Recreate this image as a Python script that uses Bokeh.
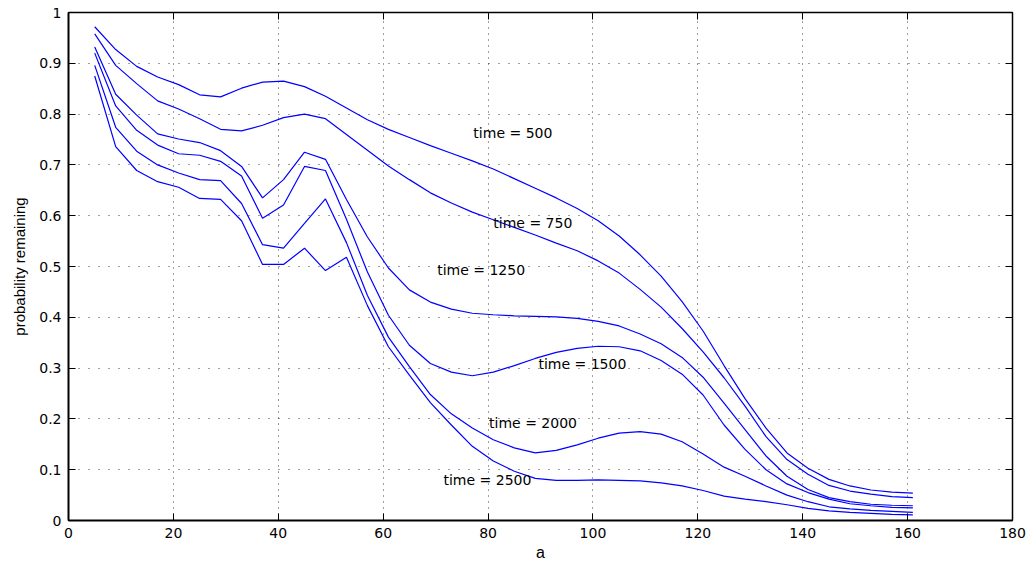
from bokeh.plotting import figure
from bokeh.models import Range1d, LinearAxis, FixedTicker, CustomLabelingPolicy
from bokeh.core.properties import value
from bokeh.embed import file_html
from bokeh.resources import INLINE

# ---------------- data ----------------
a_vals = [5, 9, 13, 17, 21, 25, 29, 33, 37, 41, 45, 49, 53, 57, 61, 65, 69, 73, 77, 81,
          85, 89, 93, 97, 101, 105, 109, 113, 117, 121, 125, 129, 133, 137, 141, 145, 149, 153, 157, 161]

t500 = [0.972, 0.927, 0.894, 0.873, 0.858, 0.838, 0.834, 0.851, 0.863, 0.865, 0.854, 0.835, 0.812,
        0.789, 0.770, 0.754, 0.738, 0.723, 0.708, 0.692, 0.673, 0.654, 0.635, 0.614, 0.590, 0.560,
        0.523, 0.481, 0.431, 0.373, 0.305, 0.240, 0.182, 0.133, 0.103, 0.081, 0.068, 0.060, 0.056, 0.054]
t750 = [0.958, 0.896, 0.860, 0.826, 0.810, 0.791, 0.770, 0.767, 0.778, 0.793, 0.800, 0.791, 0.760,
        0.729, 0.698, 0.671, 0.645, 0.625, 0.607, 0.592, 0.577, 0.562, 0.546, 0.531, 0.511, 0.487,
        0.455, 0.420, 0.378, 0.332, 0.281, 0.225, 0.165, 0.120, 0.091, 0.069, 0.058, 0.052, 0.047, 0.045]
t1250 = [0.932, 0.839, 0.798, 0.761, 0.751, 0.744, 0.728, 0.697, 0.635, 0.671, 0.725, 0.711, 0.632,
         0.558, 0.497, 0.454, 0.430, 0.416, 0.408, 0.405, 0.403, 0.402, 0.401, 0.398, 0.392, 0.383,
         0.367, 0.348, 0.321, 0.282, 0.231, 0.179, 0.127, 0.087, 0.061, 0.045, 0.037, 0.032, 0.030, 0.029]
t1500 = [0.920, 0.816, 0.768, 0.739, 0.722, 0.719, 0.707, 0.678, 0.595, 0.621, 0.697, 0.689, 0.593,
         0.489, 0.404, 0.345, 0.309, 0.292, 0.285, 0.292, 0.305, 0.319, 0.331, 0.339, 0.343, 0.342,
         0.334, 0.315, 0.288, 0.247, 0.188, 0.140, 0.100, 0.072, 0.055, 0.042, 0.033, 0.029, 0.026, 0.025]
t2000 = [0.896, 0.774, 0.727, 0.700, 0.684, 0.671, 0.669, 0.624, 0.543, 0.536, 0.585, 0.633, 0.547,
         0.443, 0.361, 0.303, 0.248, 0.210, 0.182, 0.159, 0.143, 0.133, 0.138, 0.149, 0.162, 0.172,
         0.175, 0.170, 0.155, 0.131, 0.105, 0.087, 0.068, 0.050, 0.037, 0.027, 0.023, 0.020, 0.018, 0.016]
t2500 = [0.875, 0.736, 0.689, 0.667, 0.656, 0.634, 0.632, 0.590, 0.504, 0.504, 0.536, 0.492, 0.518,
         0.423, 0.342, 0.286, 0.232, 0.188, 0.146, 0.117, 0.097, 0.083, 0.079, 0.079, 0.080, 0.079,
         0.078, 0.074, 0.068, 0.059, 0.048, 0.042, 0.037, 0.031, 0.024, 0.019, 0.016, 0.014, 0.012, 0.011]

series = [t500, t750, t1250, t1500, t2000, t2500]

label_text = ["time = 500", "time = 750", "time = 1250", "time = 1500", "time = 2000", "time = 2500"]
label_x = [77.2, 81.0, 70.3, 89.6, 80.2, 71.5]
label_y = [0.763, 0.585, 0.493, 0.309, 0.192, 0.080]

x_ticks = [0, 20, 40, 60, 80, 100, 120, 140, 160, 180]
y_ticks = [0, 0.1, 0.2, 0.3, 0.4, 0.5, 0.6, 0.7, 0.8, 0.9, 1]
y_tick_labels = ["0", "0.1", "0.2", "0.3", "0.4", "0.5", "0.6", "0.7", "0.8", "0.9", "1"]

# ---------------- figure ----------------
p = figure(width=1034, height=563, output_backend="svg", toolbar_location=None,
           x_range=Range1d(0, 180), y_range=Range1d(0, 1),
           min_border_left=68, min_border_right=22, min_border_top=12, min_border_bottom=40,
           background_fill_color="white", border_fill_color="white")
p.outline_line_color = "black"
p.outline_line_width = 1

for s in series:
    p.line(a_vals, s, line_color="#0000ff", line_width=1.2)

p.text(x=label_x, y=label_y, text=label_text, text_font=value("DejaVu Sans"),
       text_font_size="14px", text_color="black", text_align="left", text_baseline="middle")

FONT = "DejaVu Sans"

xa = p.xaxis[0]
ya = p.yaxis[0]
xa.ticker = FixedTicker(ticks=x_ticks)
ya.ticker = FixedTicker(ticks=y_ticks)
ya.major_label_overrides = {t: l for t, l in zip(y_ticks, y_tick_labels)}
for ax in (xa, ya):
    ax.axis_line_color = "black"
    ax.axis_line_width = 2
    ax.major_tick_in = 7
    ax.major_tick_out = 0
    ax.major_tick_line_color = "black"
    ax.minor_tick_line_color = None
    ax.major_label_text_font = FONT
    ax.major_label_text_font_size = "14px"
    ax.major_label_text_color = "black"
    ax.major_label_standoff = 7
    ax.axis_label_text_font = "Liberation Sans"
    ax.axis_label_text_font_style = "normal"
    ax.axis_label_text_color = "black"
xa.axis_label = "a"
xa.axis_label_text_font_size = "16px"
xa.axis_label_standoff = 3
ya.axis_label = "probability remaining"
ya.axis_label_text_font_size = "15px"
ya.axis_label_standoff = 8

# box axes (top / right) with inward ticks and no labels
for loc, tick_vals in (("above", x_ticks), ("right", y_ticks)):
    ax = LinearAxis(ticker=FixedTicker(ticks=tick_vals))
    ax.axis_line_color = "black"
    ax.axis_line_width = 1.5
    ax.major_tick_in = 7
    ax.major_tick_out = 0
    ax.minor_tick_line_color = None
    ax.major_label_policy = CustomLabelingPolicy(code="return new Set()")
    ax.major_label_standoff = 0
    p.add_layout(ax, loc)

p.xgrid.grid_line_color = "black"
p.xgrid.grid_line_alpha = 0.75
p.xgrid.grid_line_dash = "1 5"
p.xgrid.grid_line_width = 1
p.ygrid.grid_line_color = "black"
p.ygrid.grid_line_alpha = 0.75
p.ygrid.grid_line_dash = "1 9"
p.ygrid.grid_line_width = 1

open("out.html", "w").write(file_html(p, INLINE))
